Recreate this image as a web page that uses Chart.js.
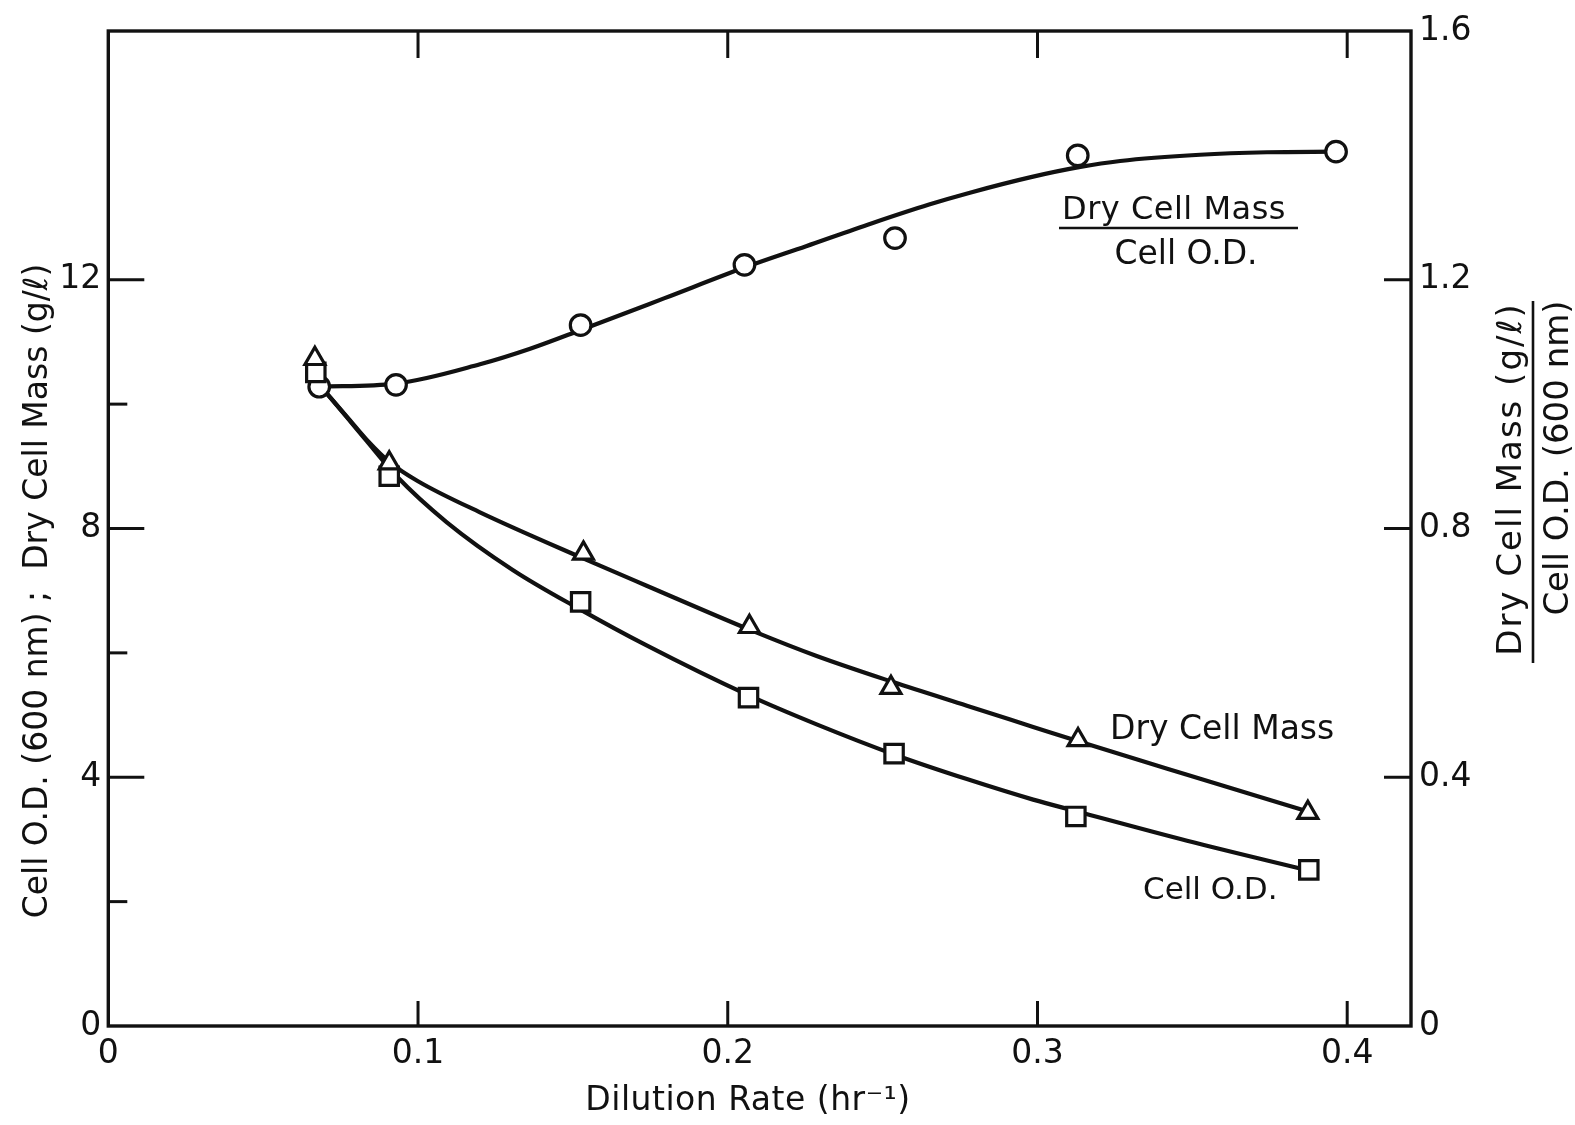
<!DOCTYPE html>
<html>
<head>
<meta charset="utf-8">
<title>Cell O.D. and dry cell mass vs dilution rate</title>
<script src="https://cdn.jsdelivr.net/npm/chart.js@4.4.1/dist/chart.umd.min.js"></script>
<style>
  html, body { margin: 0; padding: 0; background: #fff; }
  #wrap { width: 1575px; height: 1125px; }
</style>
</head>
<body>
<div id="wrap"><canvas id="chart" width="1575" height="1125"></canvas></div>
<script>
var ink = '#111';
var fontFamily = '"DejaVu Sans", sans-serif';

// axis ticks
var rateTicks = [0, 0.1, 0.2, 0.3, 0.4];
var leftTicks = [0, 4, 8, 12];
var leftMinorTicks = [2, 6, 10];
var rightTicks = [0, 0.4, 0.8, 1.2, 1.6];

var rateCircle = [0.0681, 0.0929, 0.1525, 0.2054, 0.2540, 0.3130, 0.3964];
var massPerOD = [1.028, 1.031, 1.127, 1.224, 1.267, 1.400, 1.406];      // right axis

var rateTriangle = [0.0667, 0.0907, 0.1534, 0.2070, 0.2527, 0.3131, 0.3873];
var dryMass = [10.73, 9.05, 7.60, 6.42, 5.44, 4.60, 3.43];               // g/l

var rateSquare = [0.0670, 0.0907, 0.1525, 0.2067, 0.2537, 0.3124, 0.3876];
var cellOD = [10.51, 8.84, 6.82, 5.28, 4.38, 3.37, 2.51];                // 600 nm

// hand drawn curves
var curveRateRatio = [0.0681, 0.0929, 0.1200, 0.1362, 0.1530, 0.1794, 0.2056, 0.2253, 0.2466,
                      0.2650, 0.2782, 0.2979, 0.3134, 0.3267, 0.3525, 0.3741, 0.3964];
var curveRatio = [1.028, 1.033, 1.064, 1.089, 1.120, 1.170, 1.220, 1.254, 1.291,
                  1.321, 1.340, 1.365, 1.381, 1.391, 1.401, 1.405, 1.406];

var curveRateMass = [0.0690, 0.0770, 0.0834, 0.0910, 0.1000, 0.1200, 0.1533, 0.1738, 0.2082,
                     0.2287, 0.2534, 0.2772, 0.2986, 0.3137, 0.3483, 0.3873];
var curveMass = [10.26, 9.80, 9.43, 9.06, 8.76, 8.26, 7.52, 7.08, 6.35,
                 5.95, 5.53, 5.15, 4.81, 4.57, 4.04, 3.45];

var curveRateOD = [0.0690, 0.0770, 0.0834, 0.0931, 0.1093, 0.1307, 0.1523, 0.1738, 0.2066,
                   0.2287, 0.2546, 0.2772, 0.2986, 0.3128, 0.3483, 0.3876];
var curveOD = [10.26, 9.79, 9.41, 8.84, 8.10, 7.33, 6.70, 6.12, 5.32,
               4.85, 4.35, 3.97, 3.64, 3.45, 2.98, 2.50];

function pts(xs, ys) {
	return xs.map(function(x, i) { return {x: x, y: ys[i]}; });
}

function markers(data, style, radius, axis) {
	return {
		data: data, yAxisID: axis, showLine: false, order: 0,
		pointStyle: style, pointRadius: radius, pointHoverRadius: radius,
		pointBorderWidth: 3.2, pointBorderColor: ink, pointBackgroundColor: '#fff'
	};
}

function curve(data, axis) {
	return {
		data: data, yAxisID: axis, showLine: true, order: 1,
		borderColor: ink, borderWidth: 4.2, pointRadius: 0,
		cubicInterpolationMode: 'monotone', fill: false
	};
}

function fixedTicks(values) {
	return function(scale) {
		scale.ticks = values.map(function(v) { return {value: v}; });
	};
}

var tickFont = {family: fontFamily, size: 33};

// frame and the inward tick marks
var framePlugin = {
	id: 'frame',
	beforeDatasetsDraw: function(chart) {
		var ctx = chart.ctx, a = chart.chartArea, s = chart.scales;
		ctx.save();
		ctx.strokeStyle = ink;
		ctx.lineWidth = 3.4;
		ctx.strokeRect(a.left, a.top, a.right - a.left, a.bottom - a.top);
		ctx.lineWidth = 3;
		function seg(x1, y1, x2, y2) {
			ctx.beginPath(); ctx.moveTo(x1, y1); ctx.lineTo(x2, y2); ctx.stroke();
		}
		rateTicks.slice(1).forEach(function(v) {
			var px = s.x.getPixelForValue(v);
			seg(px, a.bottom, px, a.bottom - 25);
			seg(px, a.top, px, a.top + 27);
		});
		leftTicks.slice(1).forEach(function(v) {
			var py = s.y.getPixelForValue(v);
			seg(a.left, py, a.left + 36, py);
		});
		leftMinorTicks.forEach(function(v) {
			var py = s.y.getPixelForValue(v);
			seg(a.left, py, a.left + 19, py);
		});
		rightTicks.slice(1, -1).forEach(function(v) {
			var py = s.y2.getPixelForValue(v);
			seg(a.right, py, a.right - 27, py);
		});
		ctx.restore();
	}
};

// curve labels and axis titles
var textPlugin = {
	id: 'texts',
	afterDraw: function(chart) {
		var ctx = chart.ctx;
		ctx.save();
		ctx.fillStyle = ink;
		ctx.strokeStyle = ink;
		ctx.textBaseline = 'alphabetic';
		function put(s, x, y, size, align, spacing) {
			ctx.font = size + 'px ' + fontFamily;
			ctx.textAlign = align;
			ctx.letterSpacing = (spacing || 0) + 'px';
			ctx.fillText(s, x, y);
		}
		function putUp(s, x, y, size, spacing) {
			ctx.save();
			ctx.translate(x, y);
			ctx.rotate(-Math.PI / 2);
			put(s, 0, 0, size, 'center', spacing);
			ctx.restore();
		}
		ctx.lineWidth = 2.6;

		// ratio label on the upper curve
		put('Dry Cell Mass', 1174, 219, 32, 'center', 0.5);
		ctx.beginPath(); ctx.moveTo(1059, 228); ctx.lineTo(1298, 228); ctx.stroke();
		put('Cell O.D.', 1186, 264, 33, 'center', 0);

		put('Dry Cell Mass', 1110, 739, 33, 'left', 0);
		put('Cell O.D.', 1143, 899, 31, 'left', 0);

		// axis titles
		put('Dilution Rate (hr\u207B\u00B9)', 748, 1110, 33, 'center', 0.5);
		putUp('Cell O.D. (600 nm) ;  Dry Cell Mass (g/\u2113)', 47, 591, 33, 0);

		putUp('Dry Cell Mass (g/\u2113)', 1521, 479, 34, 2);
		ctx.beginPath(); ctx.moveTo(1533, 301); ctx.lineTo(1533, 663); ctx.stroke();
		putUp('Cell O.D. (600 nm)', 1568, 458, 34, 0);
		ctx.restore();
	}
};

new Chart(document.getElementById('chart'), {
	type: 'scatter',
	data: {
		datasets: [
			markers(pts(rateTriangle, dryMass), 'triangle', 11.5, 'y'),
			markers(pts(rateSquare, cellOD), 'rect', 13, 'y'),
			markers(pts(rateCircle, massPerOD), 'circle', 10.3, 'y2'),
			curve(pts(curveRateRatio, curveRatio), 'y2'),
			curve(pts(curveRateMass, curveMass), 'y'),
			curve(pts(curveRateOD, curveOD), 'y')
		]
	},
	options: {
		responsive: false,
		devicePixelRatio: 1,
		animation: false,
		layout: {padding: {top: 31, left: 0, right: 0, bottom: 0}},
		plugins: {legend: {display: false}, tooltip: {enabled: false}},
		scales: {
			x: {
				type: 'linear', position: 'bottom', min: 0, max: 0.4206,
				grid: {display: false, drawTicks: false}, border: {display: false},
				afterBuildTicks: fixedTicks(rateTicks),
				afterFit: function(s) { s.height = 99; },
				ticks: {autoSkip: false, maxRotation: 0, padding: 9, color: ink, font: tickFont,
					callback: function(v) { return String(v); }}
			},
			y: {
				type: 'linear', position: 'left', min: 0, max: 16,
				grid: {display: false, drawTicks: false}, border: {display: false},
				afterBuildTicks: fixedTicks(leftTicks),
				afterFit: function(s) { s.width = 108.3; },
				ticks: {autoSkip: false, padding: 7, color: ink, font: tickFont,
					callback: function(v) { return String(v); }}
			},
			y2: {
				type: 'linear', position: 'right', min: 0, max: 1.6,
				grid: {display: false, drawTicks: false}, border: {display: false},
				afterBuildTicks: fixedTicks(rightTicks),
				afterFit: function(s) { s.width = 164; },
				ticks: {autoSkip: false, padding: 8, color: ink, font: tickFont,
					callback: function(v) { return String(v); }}
			}
		}
	},
	plugins: [framePlugin, textPlugin]
});
</script>
</body>
</html>
